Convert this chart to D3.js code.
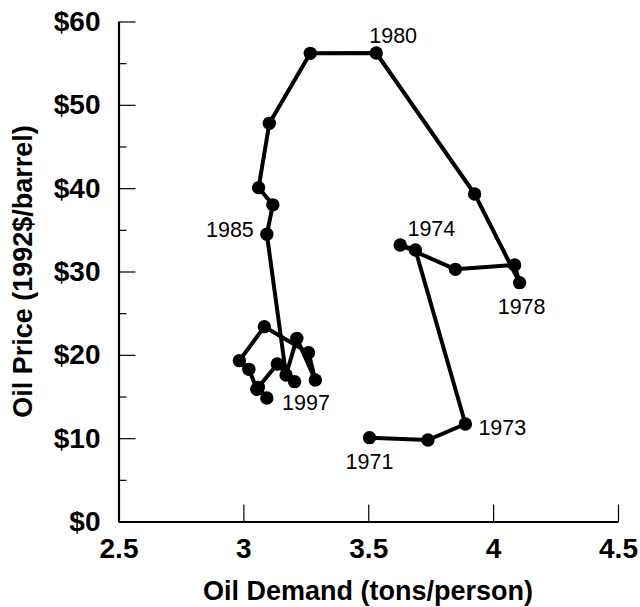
<!DOCTYPE html>
<html>
<head>
<meta charset="utf-8">
<script src="https://cdn.jsdelivr.net/npm/d3@7"></script>
<style>
  body { margin: 0; background: #fff; }
  svg { display: block; font-family: "Liberation Sans", Arial, sans-serif; }
  .axis path, .axis line { stroke: #000; }
  .axis text { font-size: 28px; font-weight: bold; fill: #000; font-family: "Liberation Sans", Arial, sans-serif; }
  .title { font-size: 27px; font-weight: bold; }
  .year { font-size: 21.5px; }
</style>
</head>
<body>
<script>
'use strict'
// oil demand (tons/person) and oil price (1992$/barrel), 1971-1997
const years = d3.range(1971, 1998);
const demand = [3.505, 3.739, 3.889, 3.689, 3.628, 3.849, 4.086, 4.106, 3.926, 3.532,
                3.268, 3.104, 3.061, 3.118, 3.094, 3.171, 3.214, 3.288, 3.261, 3.084,
                2.984, 3.022, 3.054, 3.094, 3.060, 3.136, 3.205];
const price = [10.06, 9.78, 11.70, 32.58, 33.18, 30.26, 30.78, 28.66, 39.30, 56.22,
               56.18, 47.78, 40.06, 38.00, 34.47, 17.58, 21.98, 16.98, 20.26, 23.38,
               19.30, 18.26, 15.86, 14.82, 16.10, 18.90, 16.78];
const labelYears = [1971, 1973, 1974, 1978, 1980, 1985, 1997];
const xTicks = [2.5, 3, 3.5, 4, 4.5];
const yTicks = [0, 10, 20, 30, 40, 50, 60];
const yMinorTicks = [5, 15, 25, 35, 45, 55];

const w = 640;
const h = 607;

const dataset = years.map((y, i) => ({year: y, x: demand[i], y: price[i]}));

const xScale = d3.scaleLinear().domain([2.5, 4.5]).range([118.5, 618]);
const yScale = d3.scaleLinear().domain([0, 60]).range([521.5, 21.5]);

const svg = d3.select("body")
	.append("svg")
	.attr("width", w)
	.attr("height", h);

// minor ticks first, under the main axis line
svg.append("g")
	.attr("class", "axis")
	.attr("transform", "translate(" + xScale(2.5) + ",0)")
	.call(d3.axisLeft(yScale).tickValues(yMinorTicks).tickSize(-8).tickFormat(""))
	.call(g => g.select(".domain").remove())
	.selectAll("line").attr("stroke-width", 1.2);

svg.append("g")
	.attr("class", "axis")
	.attr("transform", "translate(" + xScale(2.5) + ",0)")
	.call(d3.axisLeft(yScale).tickValues(yTicks).tickSizeInner(-17).tickSizeOuter(0)
		.tickPadding(18).tickFormat(d => "$" + d))
	.call(g => g.select(".domain").attr("stroke-width", 2.2))
	.call(g => g.selectAll("line").attr("stroke-width", 1.2));

svg.append("g")
	.attr("class", "axis")
	.attr("transform", "translate(0," + yScale(0) + ")")
	.call(d3.axisBottom(xScale).tickValues(xTicks).tickSizeInner(-17).tickSizeOuter(0)
		.tickPadding(17).tickFormat(d3.format("")))
	.call(g => g.select(".domain").attr("stroke-width", 2.2))
	.call(g => g.selectAll("line").attr("stroke-width", 1.2));

const line = d3.line()
	.x(d => xScale(d.x))
	.y(d => yScale(d.y));

svg.append("path")
	.datum(dataset)
	.attr("fill", "none")
	.attr("stroke", "#000")
	.attr("stroke-width", 4)
	.attr("stroke-linejoin", "round")
	.attr("d", line);

svg.selectAll("circle")
	.data(dataset)
	.enter()
	.append("circle")
	.attr("cx", d => xScale(d.x))
	.attr("cy", d => yScale(d.y))
	.attr("r", 6.7)
	.attr("fill", "#000");

// label placement relative to its point
const labelPos = {
	1971: {dx: 0, dy: 31, anchor: "middle"},
	1973: {dx: 13, dy: 11, anchor: "start"},
	1974: {dx: -8, dy: -14, anchor: "start"},
	1978: {dx: 2, dy: 31, anchor: "middle"},
	1980: {dx: -7, dy: -10, anchor: "start"},
	1985: {dx: -13, dy: 2.5, anchor: "end"},
	1997: {dx: -12.5, dy: 28, anchor: "start"}
};

svg.selectAll(".year")
	.data(dataset.filter(d => labelYears.includes(d.year)))
	.enter()
	.append("text")
	.attr("class", "year")
	.attr("x", d => xScale(d.x) + labelPos[d.year].dx)
	.attr("y", d => yScale(d.y) + labelPos[d.year].dy)
	.attr("text-anchor", d => labelPos[d.year].anchor)
	.text(d => d.year);

svg.append("text")
	.attr("class", "title")
	.attr("x", 368)
	.attr("y", 600)
	.attr("text-anchor", "middle")
	.text("Oil Demand (tons/person)");

svg.append("text")
	.attr("class", "title")
	.attr("transform", "translate(32,271.5) rotate(-90)")
	.attr("text-anchor", "middle")
	.text("Oil Price (1992$/barrel)");
</script>
</body>
</html>
